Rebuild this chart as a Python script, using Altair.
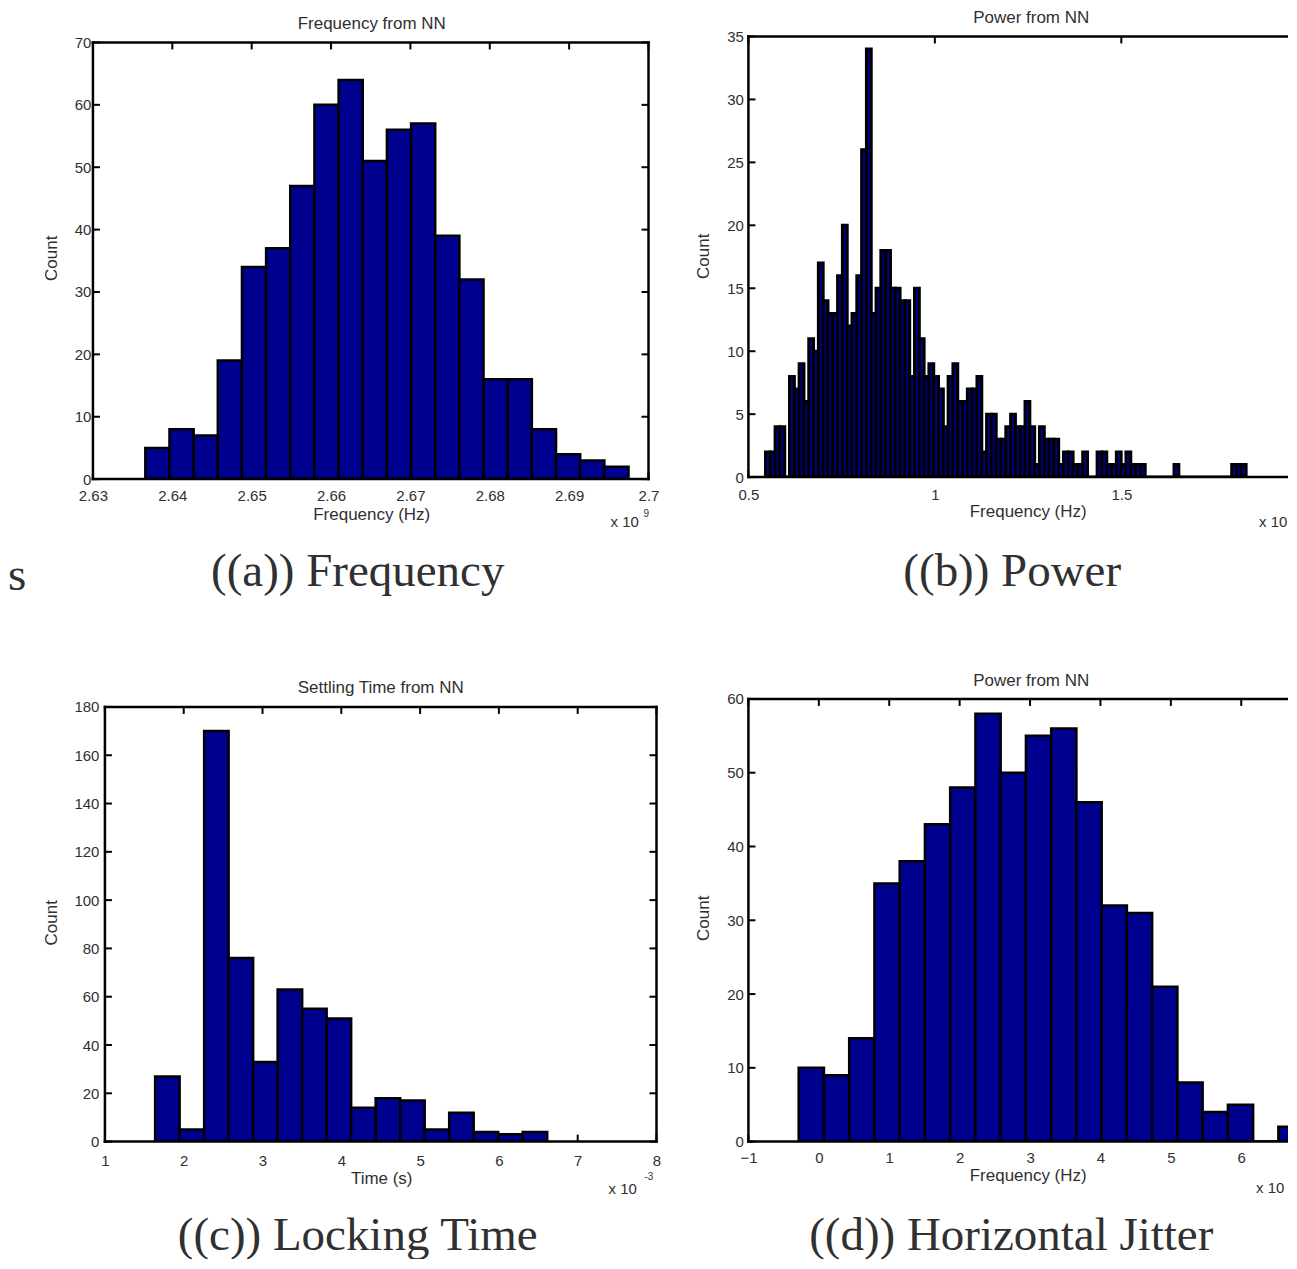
import altair as alt
import pandas as pd

# ---------------- data ----------------
# (a) Frequency from NN  (x in units of 1e9 Hz)
a_counts = [5, 8, 7, 19, 34, 37, 47, 60, 64, 51, 56, 57, 39, 32, 16, 16, 8, 4, 3, 2]
a_bin_start = 2.6366
a_bin_width = 0.003044
a_xticks = [2.63, 2.64, 2.65, 2.66, 2.67, 2.68, 2.69, 2.70]
a_yticks = [0, 10, 20, 30, 40, 50, 60, 70]

# (b) Power from NN
b_counts = [2, 2, 4, 4, 0, 8, 7, 9, 6, 11,
            10, 17, 14, 13, 13, 16, 20, 12, 13, 16,
            26, 34, 13, 15, 18, 18, 15, 15, 14, 14,
            8, 15, 11, 8, 9, 8, 7, 4, 8, 9,
            6, 6, 7, 7, 8, 2, 5, 5, 3, 3,
            4, 5, 4, 4, 6, 4, 1, 4, 3, 3,
            3, 1, 2, 2, 1, 1, 2, 0, 0, 2,
            2, 1, 1, 2, 1, 2, 1, 1, 1, 0,
            0, 0, 0, 0, 0, 1, 0, 0, 0, 0,
            0, 0, 0, 0, 0, 0, 0, 1, 1, 1]
b_bin_start = 0.5458
b_bin_width = 0.012889
b_xticks = [0.5, 1.0, 1.5]
b_yticks = [0, 5, 10, 15, 20, 25, 30, 35]

# (c) Settling Time from NN (x in units of 1e-3 s)
c_counts = [27, 5, 170, 76, 33, 63, 55, 51, 14, 18, 17, 5, 12, 4, 3, 4]
c_bin_start = 1.637
c_bin_width = 0.311
c_xticks = [1, 2, 3, 4, 5, 6, 7, 8]
c_yticks = [0, 20, 40, 60, 80, 100, 120, 140, 160, 180]

# (d) Power from NN (horizontal jitter)
d_counts = [10, 9, 14, 35, 38, 43, 48, 58, 50, 55, 56, 46, 32, 31, 21, 8, 4, 5, 0, 2]
d_bin_start = -0.286
d_bin_width = 0.3586
d_xticks = [-1, 0, 1, 2, 3, 4, 5, 6]
d_yticks = [0, 10, 20, 30, 40, 50, 60]

FILL = "#00008F"
TEXT = "#303030"
SANS = "Liberation Sans"
SERIF = "Liberation Serif"
ONE = pd.DataFrame({"k": [0]})


def bars_frame(counts, start, width):
    return pd.DataFrame({
        "x0": [start + i * width for i in range(len(counts))],
        "x1": [start + (i + 1) * width for i in range(len(counts))],
        "count": counts,
    })


def text_layer(txt, x, y, size, font=SANS, align="center", baseline="alphabetic", angle=None):
    kw = dict(text=txt, fontSize=size, font=font, align=align, baseline=baseline, color=TEXT)
    if angle is not None:
        kw["angle"] = angle
    return alt.Chart(ONE).mark_text(**kw).encode(x=alt.value(x), y=alt.value(y))


def rule_layer(**enc):
    return alt.Chart(ONE).mark_rule(color="black", strokeWidth=2.5, strokeCap="square").encode(**enc)


def panel(p):
    xs = alt.Scale(domain=p["xdom"], range=p["xrange"], nice=False, zero=False)
    ys = alt.Scale(domain=p["ydom"], range=p["yrange"], nice=False, zero=False)
    axis_common = dict(grid=False, domain=False, ticks=False, tickSize=0, title=None,
                       labelFont=SANS, labelFontSize=15, labelColor=TEXT,
                       labelFlush=False, labelOverlap=False)
    xax = alt.Axis(values=p["xticks"], format=p["xfmt"], labelPadding=p["xpad"], **axis_common)
    yax = alt.Axis(values=p["yticks"], format="d", labelPadding=p["ypad"], offset=p["yoff"],
                   **axis_common)
    L, R, T, B = p["left"], p["right"], p["top"], p["bottom"]
    tl = 7
    xt = pd.DataFrame({"v": p["xticks"]})
    yt = pd.DataFrame({"v": p["yticks"]})
    tick = dict(color="black", strokeWidth=2)
    layers = [
        alt.Chart(xt).mark_rule(**tick).encode(
            x=alt.X("v:Q", scale=xs, axis=xax), y=alt.value(B), y2=alt.value(B - tl)),
        alt.Chart(xt).mark_rule(**tick).encode(
            x=alt.X("v:Q", scale=xs, axis=xax), y=alt.value(T), y2=alt.value(T + tl)),
        alt.Chart(yt).mark_rule(**tick).encode(
            y=alt.Y("v:Q", scale=ys, axis=yax), x=alt.value(L), x2=alt.value(L + tl)),
    ]
    if p["box"]:
        layers.append(alt.Chart(yt).mark_rule(**tick).encode(
            y=alt.Y("v:Q", scale=ys, axis=yax), x=alt.value(R - tl), x2=alt.value(R)))
    bars = alt.Chart(bars_frame(p["counts"], p["start"], p["width_bin"])).mark_bar(
        fill=FILL, stroke="black", strokeWidth=p["bar_sw"], clip=True
    ).encode(
        x=alt.X("x0:Q", scale=xs, axis=xax),
        x2="x1:Q",
        y=alt.Y("count:Q", scale=ys, axis=yax),
        y2=alt.datum(0),
    )
    layers.append(bars)
    rend = R if p["box"] else R - 1.25
    layers.append(rule_layer(x=alt.value(L), x2=alt.value(rend), y=alt.value(T)))
    layers.append(rule_layer(x=alt.value(L), x2=alt.value(rend), y=alt.value(B)))
    layers.append(rule_layer(x=alt.value(L), y=alt.value(T), y2=alt.value(B)))
    if p["box"]:
        layers.append(rule_layer(x=alt.value(R), y=alt.value(T), y2=alt.value(B)))
    for t in p["texts"]:
        layers.append(text_layer(**t))
    return alt.layer(*layers).properties(width=p["vw"], height=p["vh"])


pa = panel(dict(
    counts=a_counts, start=a_bin_start, width_bin=a_bin_width,
    xdom=[2.63, 2.70], xrange=[0, 556], ydom=[0, 70], yrange=[443, 6],
    left=0, right=556, top=6, bottom=443, box=True,
    xticks=a_xticks, yticks=a_yticks, xfmt=".3~g", xpad=9, ypad=2, yoff=0,
    bar_sw=2.5, vw=556, vh=443,
    texts=[
        dict(txt="Frequency from NN", x=279, y=-7.5, size=17),
        dict(txt="Count", x=-41, y=222, size=17, baseline="middle", angle=270),
        dict(txt="Frequency (Hz)", x=279, y=483.5, size=17),
        dict(txt="x 10", x=518, y=491, size=15, align="left"),
        dict(txt="9", x=551, y=481, size=10, align="left"),
        dict(txt="((a)) Frequency", x=265, y=550, size=47, font=SERIF),
        dict(txt="s", x=-85, y=554, size=47, font=SERIF, align="left"),
    ],
))

pb = panel(dict(
    counts=b_counts, start=b_bin_start, width_bin=b_bin_width,
    xdom=[0.5, 1.947], xrange=[0, 540], ydom=[0, 35], yrange=[441, 0],
    left=0, right=540, top=0, bottom=441, box=False,
    xticks=b_xticks, yticks=b_yticks, xfmt="~g", xpad=10, ypad=5, yoff=0,
    bar_sw=3.0, vw=540, vh=441,
    texts=[
        dict(txt="Power from NN", x=283, y=-13.5, size=17),
        dict(txt="Count", x=-44.5, y=220, size=17, baseline="middle", angle=270),
        dict(txt="Frequency (Hz)", x=280, y=480.5, size=17),
        dict(txt="x 10", x=511, y=491, size=15, align="left"),
        dict(txt="((b)) Power", x=264, y=550, size=47, font=SERIF),
    ],
))

pc = panel(dict(
    counts=c_counts, start=c_bin_start, width_bin=c_bin_width,
    xdom=[1, 8], xrange=[12, 564], ydom=[0, 180], yrange=[443, 8],
    left=12, right=564, top=8, bottom=443, box=True,
    xticks=c_xticks, yticks=c_yticks, xfmt="d", xpad=12, ypad=6, yoff=-12,
    bar_sw=2.5, vw=564, vh=443,
    texts=[
        dict(txt="Settling Time from NN", x=288, y=-5.5, size=17),
        dict(txt="Count", x=-41, y=224, size=17, baseline="middle", angle=270),
        dict(txt="Time (s)", x=289, y=485.5, size=17),
        dict(txt="x 10", x=516, y=495, size=15, align="left"),
        dict(txt="-3", x=552, y=481, size=10, align="left"),
        dict(txt="((c)) Locking Time", x=265, y=551, size=47, font=SERIF),
    ],
))

pd_ = panel(dict(
    counts=d_counts, start=d_bin_start, width_bin=d_bin_width,
    xdom=[-1, 6.664], xrange=[0, 540], ydom=[0, 60], yrange=[443, 0],
    left=0, right=540, top=0, bottom=443, box=False,
    xticks=d_xticks, yticks=d_yticks, xfmt="d", xpad=9, ypad=5, yoff=0,
    bar_sw=2.5, vw=540, vh=443,
    texts=[
        dict(txt="Power from NN", x=283, y=-13, size=17),
        dict(txt="Count", x=-44.5, y=219.5, size=17, baseline="middle", angle=270),
        dict(txt="Frequency (Hz)", x=280, y=482.5, size=17),
        dict(txt="x 10", x=508, y=494, size=15, align="left"),
        dict(txt="((d)) Horizontal Jitter", x=263, y=551, size=47, font=SERIF),
    ],
))

# invisible anchor fixing the top edge of the whole figure
anchor = alt.Chart(ONE).mark_rule(color="white", strokeWidth=1, opacity=0).encode(
    x=alt.value(300), x2=alt.value(301), y=alt.value(-27.5))
pa = alt.layer(pa, anchor)

chart = alt.concat(
    pa, pb, pc, pd_, columns=2, spacing={"row": 220, "column": 92},
    bounds="flush", align="each"
).properties(padding=0).configure_view(stroke=None)

chart.save("out.html", embed_options={"renderer": "svg", "actions": False})
